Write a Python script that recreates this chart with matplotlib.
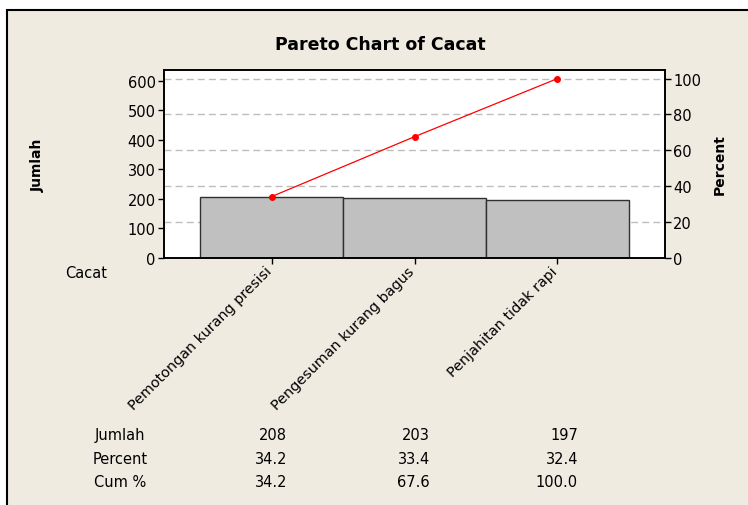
import numpy as np
import matplotlib.pyplot as plt
from matplotlib.patches import Rectangle

categories = ["Pemotongan kurang presisi", "Pengesuman kurang bagus", "Penjahitan tidak rapi"]
jumlah = [208, 203, 197]
percent = [34.2, 33.4, 32.4]
cum_pct = [34.2, 67.6, 100.0]

left_ticks = [0, 100, 200, 300, 400, 500, 600]
right_ticks = [0, 20, 40, 60, 80, 100]

BG = "#efebe1"
W, H = 748, 506
NARROW = ["Liberation Sans Narrow", "DejaVu Sans"]

fig = plt.figure(figsize=(W / 100, H / 100), dpi=100, facecolor="white")
# beige panel with black border (only top/left edges inside the picture)
fig.add_artist(Rectangle((7 / W, -0.1), 1.1, 1.1 - 11 / H, transform=fig.transFigure,
                         facecolor=BG, edgecolor="black", linewidth=1.5, zorder=-5))

ax = fig.add_axes([164 / W, 1 - 259 / H, (665 - 164) / W, (259 - 71) / H])
ax.set_facecolor("white")

total = sum(jumlah)
x = np.arange(len(categories))
ax.bar(x, jumlah, width=1.0, color="#c0c0c0", edgecolor="#303030", linewidth=1.0, zorder=2)
ax.plot(x, np.array(cum_pct) / 100 * total, color="red", marker="o", markersize=4,
        linewidth=0.9, zorder=3)

ymax = 637
ax.set_ylim(0, ymax)
ax.set_xlim(-0.752, 2.752)
ax.set_yticks(left_ticks)
ax.set_xticks(x)
ax.set_xticklabels([])

ax2 = ax.twinx()
ax2.set_ylim(0, ymax / total * 100)
ax2.set_yticks(right_ticks)
for t in right_ticks[1:]:
    ax.axhline(t / 100 * total, color="#bdbdbd", linestyle=(0, (5, 3)), linewidth=1.0, zorder=1)

for a in (ax, ax2):
    a.tick_params(direction="out", length=4, width=1, colors="black", pad=2)
    for lab in a.get_yticklabels():
        lab.set_fontfamily(NARROW)
        lab.set_fontsize(10.5)
    for s in a.spines.values():
        s.set_linewidth(1.2)

fig.text(380 / W, 1 - 45 / H, "Pareto Chart of Cacat", ha="center", va="center",
         fontsize=12.5, fontweight="bold", family=NARROW)
fig.text(38 / W, 1 - 165 / H, "Jumlah", rotation=90, ha="center", va="center",
         fontsize=10, fontweight="bold")
fig.text(720 / W, 1 - 165 / H, "Percent", rotation=90, ha="center", va="center",
         fontsize=10, fontweight="bold")
fig.text(86 / W, 1 - 274 / H, "Cacat", ha="center", va="center", fontsize=10.5,
         family=NARROW)

# rotated category labels anchored at tick
for xi, name in zip(x, categories):
    ax.annotate(name, xy=(xi, 0), xycoords=("data", "axes fraction"),
                xytext=(-5, -4), textcoords="offset points", rotation=45,
                ha="right", va="top", rotation_mode="anchor", fontsize=10.4,
                family=["DejaVu Sans"])

# table below
row_labels = ["Jumlah", "Percent", "Cum %"]
rows = [[str(v) for v in jumlah], [f"{v:.1f}" for v in percent], [f"{v:.1f}" for v in cum_pct]]
row_y = [436, 460, 483]
col_right = [287, 430, 578]
for ry, lab, vals in zip(row_y, row_labels, rows):
    fig.text(120 / W, 1 - ry / H, lab, ha="center", va="center", size=10.5, family=NARROW)
    for cx, v in zip(col_right, vals):
        fig.text(cx / W, 1 - ry / H, v, ha="right", va="center", size=10.5, family=NARROW)

fig.savefig("out.png", dpi=100, facecolor=fig.get_facecolor())
